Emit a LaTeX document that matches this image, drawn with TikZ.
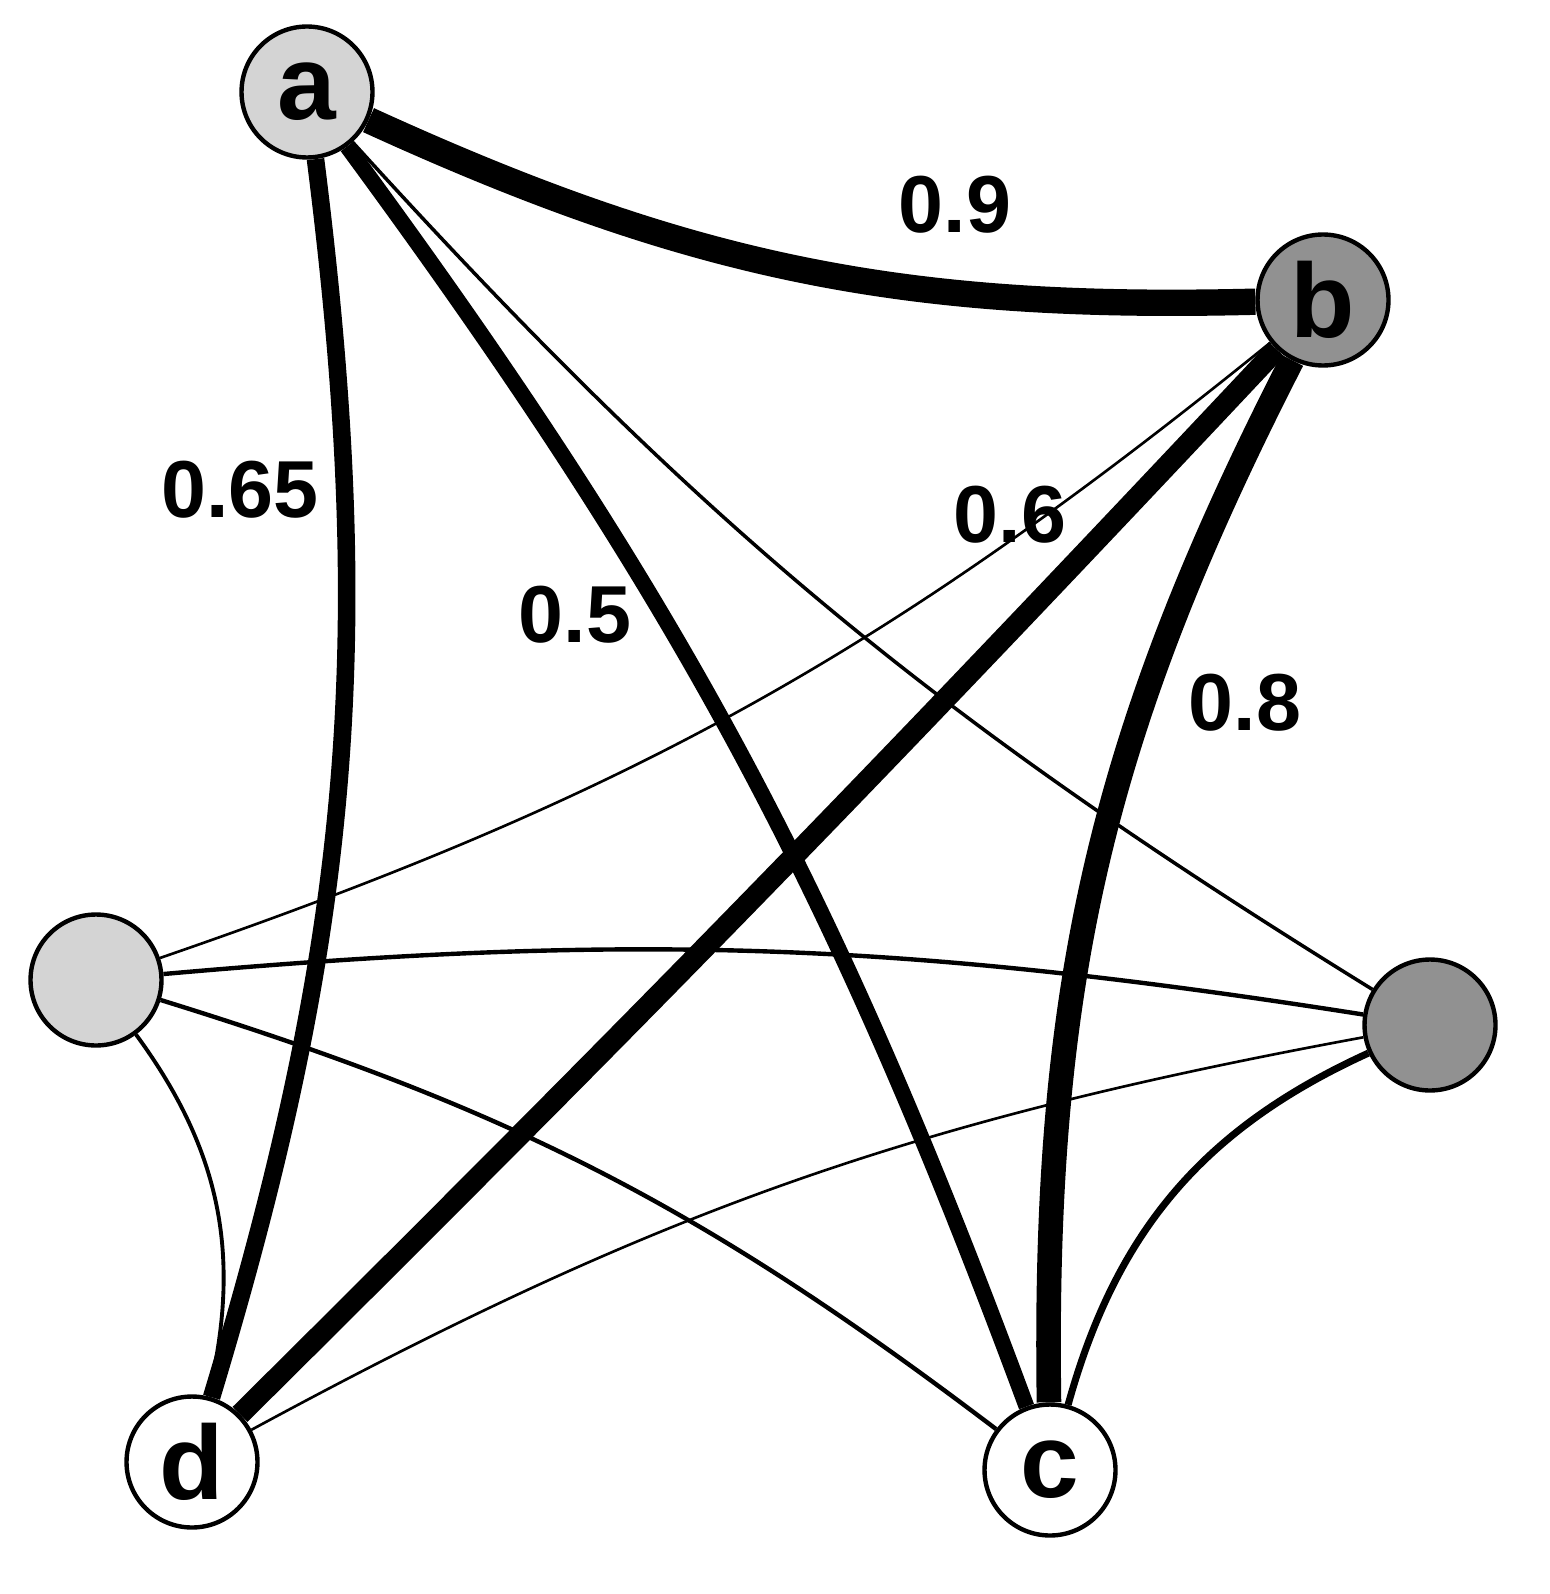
\documentclass[tikz,border=0pt]{standalone}
\usepackage{fontspec}
\setmainfont{Liberation Sans}
\begin{document}
\begin{tikzpicture}[x=0.02cm,y=-0.02cm,
  vtx/.style={circle,draw,line width=2.5pt,minimum size=2.62cm,inner sep=0pt,font=\fontsize{60}{60}\bfseries\selectfont},
  lbl/.style={font=\fontsize{46}{46}\bfseries\selectfont}]
\useasboundingbox (0,0) rectangle (1550,1594);
\node[vtx,fill=black!17] (a) at (307,92) {a};
\node[vtx,fill=black!43] (b) at (1323,300) {b};
\node[vtx,fill=black!17] (e) at (96,980) {};
\node[vtx,fill=black!43] (f) at (1430,1025) {};
\node[vtx,fill=white] (d) at (192,1462) {d};
\node[vtx,fill=white] (c) at (1050,1470) {c};
\draw[line width=15pt] (a) to[bend right=13] (b);
\draw[line width=10pt] (a) to[bend left=12] (d);
\draw[line width=9pt] (a) to[bend left=8] (c);
\draw[line width=12pt] (b) to[bend left=1] (d);
\draw[line width=14pt] (b) to[bend right=14] (c);
\draw[line width=1.5pt] (b) to[bend left=10] (e);
\draw[line width=2pt] (a) to[bend right=8] (f);
\draw[line width=2.5pt] (e) to[bend left=7] (f);
\draw[line width=2.5pt] (e) to[bend left=10] (c);
\draw[line width=1.5pt] (f) to[bend right=9] (d);
\draw[line width=4pt] (f) to[bend right=25] (c);
\draw[line width=2.2pt] (e) to[bend left=25] (d);
\node[lbl] (l1) at (955,205) {0.9};
\node[lbl] (l2) at (240,490) {0.65};
\node[lbl] (l3) at (575,615) {0.5};
\node[lbl] (l4) at (1010,515) {0.6};
\node[lbl] (l5) at (1245,703) {0.8};
\end{tikzpicture}
\end{document}
